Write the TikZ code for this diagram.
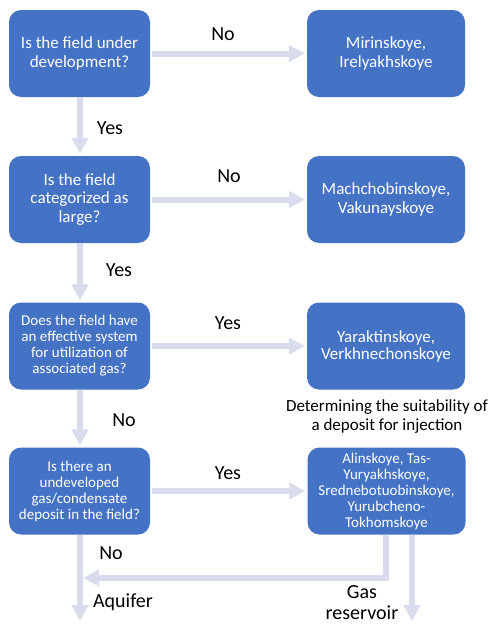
\documentclass[tikz,border=0pt]{standalone}
\usepackage{fontspec}
\setmainfont{Carlito}
\usetikzlibrary{arrows.meta}
\definecolor{boxblue}{RGB}{68,114,196}
\definecolor{arrowc}{RGB}{216,220,237}
\begin{document}
\begin{tikzpicture}[x=1pt,y=-1pt,
  box/.style={fill=boxblue, rounded corners=12pt, text=white, align=center, inner sep=0pt},
  lbox/.style={box, minimum width=141pt, minimum height=87pt},
  rbox/.style={box, minimum width=158pt, minimum height=87pt},
  bigt/.style={font=\fontsize{17}{18.3}\selectfont},
  smallt/.style={font=\fontsize{15}{16}\selectfont},
  lab/.style={font=\fontsize{20}{22}\selectfont, text=black, inner sep=0pt},
  flow/.style={draw=arrowc, line width=6pt, line join=miter, -{Triangle[width=16pt,length=16pt]}}
]
\useasboundingbox (0,0) rectangle (490,624);
\fill[white] (0,0) rectangle (490,624);

% left question boxes
\node[lbox,bigt] (q1) at (79.5,53.5) {Is the field under\\development?};
\node[lbox,bigt] (q2) at (79.5,199.5) {Is the field\\categorized as\\large?};
\node[lbox,smallt] (q3) at (79.5,346) {Does the field have\\an effective system\\for utilization of\\associated gas?};
\node[lbox,smallt] (q4) at (79.5,491) {Is there an\\undeveloped\\gas/condensate\\deposit in the field?};

% right answer boxes
\node[rbox,bigt] (r1) at (386,53.5) {Mirinskoye,\\Irelyakhskoye};
\node[rbox,bigt] (r2) at (386,199.5) {Machchobinskoye,\\Vakunayskoye};
\node[rbox,font=\fontsize{17}{17}\selectfont] (r3) at (386,346) {Yaraktinskoye,\\Verkhnechonskoye};
\node[rbox,smallt] (r4) at (386.5,491) {Alinskoye, Tas-\\Yuryakhskoye,\\Srednebotuobinskoye,\\Yurubcheno-\\Tokhomskoye};

% horizontal arrows
\foreach \i in {1,2,3,4} {
  \draw[flow, shorten <=2pt, shorten >=2pt] (q\i.east) -- (r\i.west);
}
% vertical arrows
\draw[flow, shorten >=2pt] ([xshift=0.5pt]q1.south) -- ([xshift=0.5pt]q2.north);
\draw[flow, shorten >=2pt] ([xshift=0.5pt]q2.south) -- ([xshift=0.5pt]q3.north);
\draw[flow, shorten >=2pt] ([xshift=0.5pt]q3.south) -- ([xshift=0.5pt]q4.north);

% bottom arrows
\coordinate (aq) at (80,621);
\coordinate (gr) at (412,621);
\coordinate (turn) at (386,578);
\coordinate (join) at (83,578);
\draw[flow] ([xshift=0.5pt]q4.south) -- (aq);
\draw[flow] ([xshift=-0.5pt]r4.south) -- (turn) -- (join);
\draw[flow] (r4.south -| gr) -- (gr);

% labels
\node[lab] (l1n) at (223,34) {No};
\node[lab] (l1y) at (110,128) {Yes};
\node[lab] (l2n) at (229,176) {No};
\node[lab] (l2y) at (119,270) {Yes};
\node[lab] (l3y) at (228,323) {Yes};
\node[lab] (l3n) at (124,420) {No};
\node[lab] (l4y) at (228,473) {Yes};
\node[lab] (l4n) at (111,553) {No};
\node[lab] (laq) at (123,602) {Aquifer};
\node[lab, align=center, font=\fontsize{20}{21}\selectfont] (lgr) at (362,602.5) {Gas\\reservoir};
\node[text=black, align=center, inner sep=0pt, font=\fontsize{17}{19}\selectfont] (det) at (387,416.5) {Determining the suitability of\\a deposit for injection};
\end{tikzpicture}
\end{document}
